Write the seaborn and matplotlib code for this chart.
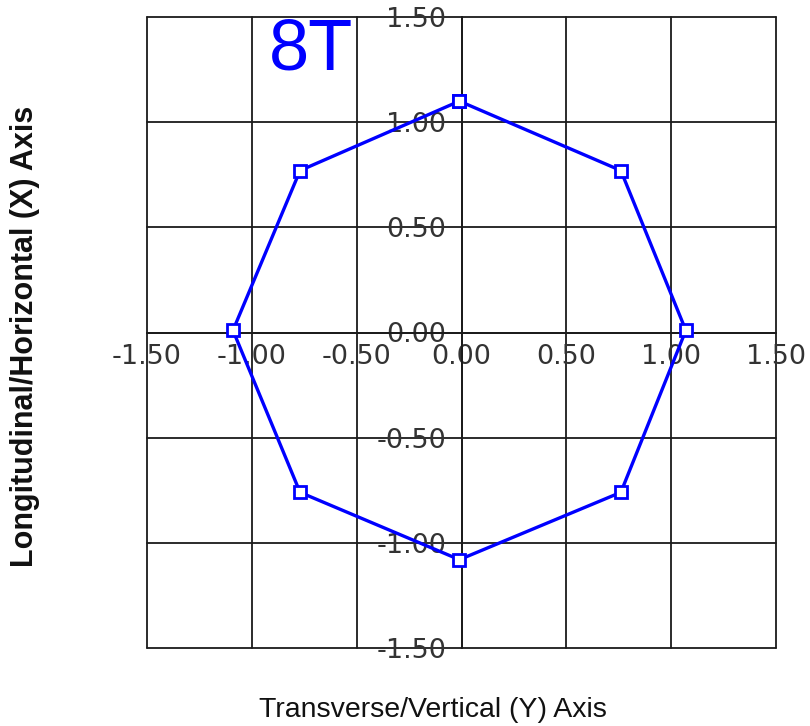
import matplotlib
matplotlib.use("Agg")
import matplotlib.pyplot as plt
import seaborn as sns
import pandas as pd
from matplotlib.ticker import MultipleLocator, FormatStrFormatter

# Coil positions of the 8T arrangement (closed polygon, first point repeated)
transverse_y = [-0.01, 0.76, 1.07, 0.76, -0.01, -0.77, -1.09, -0.77, -0.01]
longitudinal_x = [1.10, 0.77, 0.01, -0.76, -1.08, -0.76, 0.01, 0.77, 1.10]
tick_values = [-1.5, -1.0, -0.5, 0.0, 0.5, 1.0, 1.5]
title_text = "8T"
xlabel_text = "Transverse/Vertical (Y) Axis"
ylabel_text = "Longitudinal/Horizontal (X) Axis"

sns.set_style("white")
plt.rcParams["font.family"] = ["DejaVu Sans"]

df = pd.DataFrame({"y": transverse_y, "x": longitudinal_x})

fig = plt.figure(figsize=(8.10, 7.26), dpi=100)
ax = fig.add_axes([147 / 810, 1 - 648 / 726, 629 / 810, 631 / 726])

sns.lineplot(data=df, x="y", y="x", sort=False, estimator=None, ax=ax,
             color="#0000ff", linewidth=2.4, marker="s", markersize=9,
             markerfacecolor="white", markeredgecolor="#0000ff",
             markeredgewidth=2.0, zorder=5)

ax.set_xlim(-1.5, 1.5)
ax.set_ylim(-1.5, 1.5)
ax.set_xticks(tick_values)
ax.set_yticks(tick_values)
ax.xaxis.set_minor_locator(MultipleLocator(0.25))
ax.yaxis.set_minor_locator(MultipleLocator(0.25))
ax.xaxis.set_major_formatter(FormatStrFormatter("%.2f"))
ax.yaxis.set_major_formatter(FormatStrFormatter("%.2f"))

# Axes cross at the origin; outer frame comes from the grid
ax.spines["left"].set_position("zero")
ax.spines["bottom"].set_position("zero")
ax.spines["top"].set_visible(False)
ax.spines["right"].set_visible(False)
for s in ("left", "bottom"):
    ax.spines[s].set_color("#1a1a1a")
    ax.spines[s].set_linewidth(1.3)

ax.grid(True, which="major", color="#1a1a1a", linewidth=1.3)
for gl in ax.get_xgridlines() + ax.get_ygridlines():
    gl.set_clip_on(False)

ax.tick_params(axis="x", which="both", direction="out", length=5, width=1.3,
               color="#1a1a1a", labelsize=19.5, labelcolor="#333333", pad=3)
ax.tick_params(axis="y", which="both", direction="out", length=5, width=1.3,
               color="#1a1a1a", labelsize=19.5, labelcolor="#333333", pad=6)
ax.set_xlabel("")
ax.set_ylabel("")

fig.text(311 / 810, 1 - 51 / 726, title_text, color="#0000ff", fontsize=52,
         family=["Liberation Sans", "DejaVu Sans"], ha="center", va="center")
fig.text(433 / 810, 1 - 710 / 726, xlabel_text, color="#111111", fontsize=20.5,
         family=["Liberation Sans", "DejaVu Sans"], ha="center", va="center")
fig.text(25 / 810, 1 - 336 / 726, ylabel_text, color="#111111", fontsize=22,
         fontweight="bold", family=["Liberation Sans", "DejaVu Sans"],
         ha="center", va="center", rotation=90)

fig.savefig("out.png", dpi=100, facecolor="white")
